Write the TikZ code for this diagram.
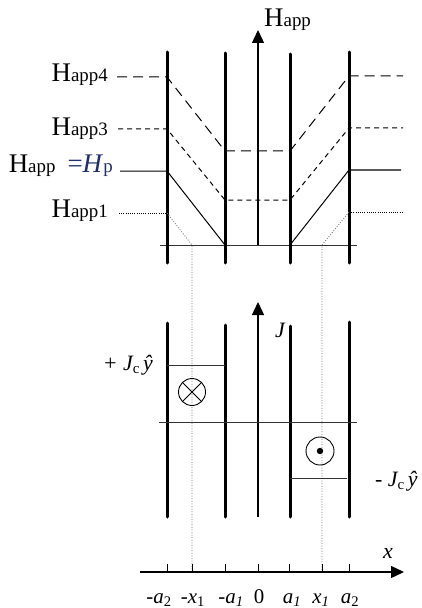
\documentclass[tikz,border=0pt]{standalone}
\usepackage{fontspec}
\setmainfont{Liberation Serif}
\usetikzlibrary{arrows.meta,positioning}
\definecolor{inkblue}{HTML}{1F2F6A}
\definecolor{guidegray}{HTML}{7A7A7A}
\definecolor{bk80}{HTML}{333333}
\tikzset{
  slabwall/.style={line width=3bp, line cap=round},
  axisline/.style={line width=1.3bp, -{Triangle[length=13bp,width=12bp]}},
  thinline/.style={line width=0.9bp, color=bk80},
  levelfour/.style={line width=1bp, dash pattern=on 10bp off 6bp},
  levelthree/.style={line width=1bp, dash pattern=on 5bp off 4bp},
  levelpen/.style={line width=1bp},
  levelone/.style={line width=0.9bp, dash pattern=on 1bp off 1.2bp},
  guide/.style={guidegray, line width=0.8bp, dash pattern=on 1bp off 1.6bp},
  hlabel/.style={anchor=base east, inner sep=0pt, font=\fontsize{27}{27}\selectfont},
  ticklabel/.style={anchor=base, inner sep=0pt, font=\fontsize{21}{21}\selectfont},
  jlabel/.style={inner sep=0pt, font=\fontsize{22}{22}\selectfont\itshape},
}
\newcommand{\happ}[1]{H{\fontsize{19}{19}\selectfont app#1}}
\newcommand{\jcy}{\textit{J}{\fontsize{15}{15}\selectfont\upshape\raisebox{-3bp}{c}}\,\textit{ŷ}}

\begin{document}
\begin{tikzpicture}[x=1bp, y=-1bp]
\useasboundingbox (0,0) rectangle (421,608);

% upper panel: applied field profiles
\draw[axisline] (258,245) -- (258,30);
\node[anchor=base west, inner sep=0pt, font=\fontsize{27}{27}\selectfont] (happtop) at (264,27) {\happ{}};
\draw[thinline] (160,245) -- (357,245);
\foreach \xw/\yt in {167/52, 225/53, 290/54, 349/52}
  \draw[slabwall] (\xw,\yt) -- (\xw,263);

\draw[levelfour] (117,77) -- (167,77) -- (225,151) -- (290,151) -- (349,76) -- (403,76);
\draw[levelthree] (118,129) -- (167,129) -- (225,200) -- (290,200) -- (349,128) -- (403,128);
\draw[levelpen] (120,171) -- (167,171) -- (225,245);
\draw[levelpen] (290,245) -- (349,170) -- (401,170);
\draw[levelone] (119,213) -- (167,213);
\draw[levelone] (349,212) -- (403,212);
\draw[guide] (167,213) -- (192,245) -- (192,572);
\draw[guide] (349,212) -- (322,245) -- (322,572);

\node[hlabel] (happfour) at (108,82) {\happ{4}};
\node[hlabel] (happthree) at (108,136) {\happ{3}};
\node[hlabel] (happpen) at (113,173) {\happ{}\hspace{12bp}{\color{inkblue}=\textit{H}{\fontsize{19}{19}\selectfont p}}};
\node[hlabel] (happone) at (108,217) {\happ{1}};

% lower panel: current density
\draw[axisline] (258,517) -- (258,302);
\node[jlabel, anchor=base] (jname) at (280,337) {J};
\foreach \xw/\yt in {167/323, 225/325, 290/326, 349/322}
  \draw[slabwall] (\xw,\yt) -- (\xw,517);
\draw[thinline] (159,422) -- (357,422);
\draw[thinline] (167,365) -- (225,365);
\draw[thinline] (290,478) -- (347,478);

\node[draw, circle, line width=0.9bp, minimum size=27bp, inner sep=0pt] (intoy) at (192,392) {};
\draw[line width=0.9bp] (intoy.north west) -- (intoy.south east)
                        (intoy.north east) -- (intoy.south west);
\node[draw, circle, line width=0.9bp, minimum size=28bp, inner sep=0pt] (outofy) at (320,451) {};
\fill (outofy) circle (3.2bp);

\node[jlabel, anchor=base east] (jplus) at (153,370) {+ \jcy};
\node[jlabel, anchor=base west] (jminus) at (375,486) {- \jcy};

% x axis
\draw[axisline] (140,572) -- (404,572);
\foreach \xt in {167,192,225,258,289,322,349}
  \draw[line width=1bp] (\xt,572) -- (\xt,564);
\node[jlabel, anchor=base] (xname) at (388,558) {x};
\foreach \xt/\txt in {159/-\textit{a}\textsubscript{2}, 193/-\textit{x}\textsubscript{1},
                      231/-\textit{a}\textsubscript{\textit{1}}, 259/0,
                      292/\textit{a}\textsubscript{\textit{1}}, 321/\textit{x}\textsubscript{\textit{1}},
                      350/\textit{a}\textsubscript{2}}
  \node[ticklabel] at (\xt,603) {\txt};
\end{tikzpicture}
\end{document}
